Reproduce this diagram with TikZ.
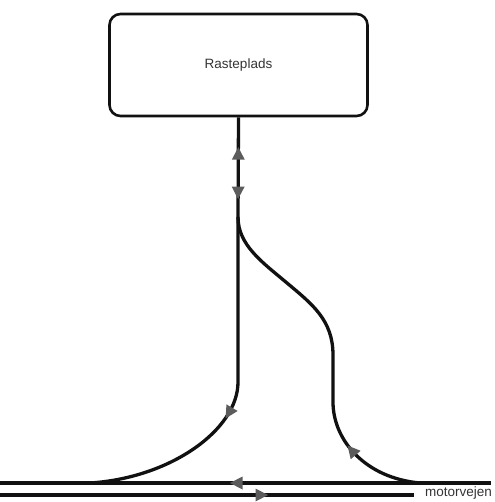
\documentclass[tikz,border=0pt]{standalone}
\usepackage{fontspec}
\setmainfont{Liberation Sans}
\usetikzlibrary{decorations.markings}
\definecolor{arrowgray}{HTML}{5C5C5C}
\definecolor{linecol}{HTML}{111111}
\definecolor{textcol}{HTML}{333333}
\tikzset{
  fwd/.style={postaction={decorate,decoration={markings,
    mark=at position #1 with {\fill[arrowgray] (6pt,0) -- (-6.5pt,6.5pt) -- (-6.5pt,-6.5pt) -- cycle;}}}},
  bwd/.style={postaction={decorate,decoration={markings,
    mark=at position #1 with {\fill[arrowgray] (-6pt,0) -- (6.5pt,6.5pt) -- (6.5pt,-6.5pt) -- cycle;}}}},
  lane/.style={draw=linecol,line width=3.3pt},
  road/.style={draw=linecol,line width=4.2pt},
  restbox/.style={draw=linecol,line width=2.6pt,rounded corners=11pt,
    minimum width=258pt,minimum height=102pt,inner sep=0pt,
    font=\fontsize{13.5}{16}\selectfont,text=textcol},
}
\begin{document}
\begin{tikzpicture}[x=1pt,y=-1pt]
\useasboundingbox (0,0) rectangle (494,502);
% rest area
\node[restbox] (rast) at (238.5,65) {Rasteplads};
% junction coordinates
\coordinate (j) at (238,217);
\coordinate (lv) at (238,382);
\coordinate (lend) at (90,483);
\coordinate (rstart) at (420,483);
\coordinate (rv1) at (333,402);
\coordinate (rv2) at (333,355);
\coordinate (rmid) at (287,283);
\coordinate (r1w) at (0,483);
\coordinate (r1e) at (491,483);
\coordinate (r2w) at (0,495);
\coordinate (r2e) at (414,495);
% two-way connector to the rest area
\draw[lane,bwd=0.36,fwd=0.76] (rast.south) -- (j);
% leaving the rest area (down, merging left)
\draw[lane,fwd=198pt] (j) -- (lv) .. controls (238,430) and (170,478) .. (lend);
% entering from the road (up)
\draw[lane,fwd=78pt] (rstart) .. controls (365,478) and (333,440) .. (rv1) -- (rv2)
  .. controls (333,320) and (312,304) .. (rmid)
  .. controls (262,262) and (238,245) .. (j);
% motorway
\draw[road,fwd=255pt] (r1e) -- (r1w);
\draw[road,fwd=262pt] (r2w) -- (r2e);
\node[anchor=east,inner sep=0pt,font=\fontsize{13.5}{15}\selectfont,text=textcol] (mv) at (492,493) {motorvejen};
\end{tikzpicture}
\end{document}
